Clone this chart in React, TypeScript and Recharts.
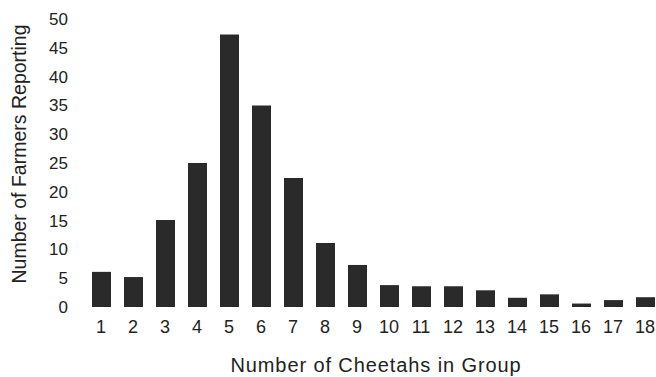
import * as React from "react";
import { BarChart, Bar, XAxis, YAxis, Label } from "recharts";

const groupSizes = ["1", "2", "3", "4", "5", "6", "7", "8", "9", "10", "11", "12", "13", "14", "15", "16", "17", "18"];
const farmerCounts = [6.1, 5.2, 15.1, 25, 47.3, 35, 22.4, 11.1, 7.3, 3.8, 3.6, 3.6, 2.9, 1.6, 2.2, 0.6, 1.2, 1.7];
const yTicks = [0, 5, 10, 15, 20, 25, 30, 35, 40, 45, 50];

const INK = "#222222";
const FONT = "'Liberation Sans', Arial, sans-serif";

const chartData = groupSizes.map((size, i) => ({ size, farmers: farmerCounts[i] }));

/**
 * Cheetah group size histogram
 */
export default function App() {
  return (
    <div
      style={{
        position: "absolute",
        left: 0,
        top: 0,
        width: 656,
        height: 377,
        overflow: "hidden",
        background: "#fff",
        fontFamily: FONT,
      }}
    >
      <BarChart
        width={672}
        height={377}
        data={chartData}
        margin={{ top: 19, right: 11, left: 0, bottom: 0 }}
        barCategoryGap={0}
      >
        <XAxis
          dataKey="size"
          height={70}
          axisLine={false}
          tickLine={false}
          tickSize={0}
          tickMargin={13}
          interval={0}
          tick={{ fill: INK, fontSize: 18, fontFamily: FONT }}
        >
          <Label
            value="Number of Cheetahs in Group"
            position="insideBottom"
            offset={5}
            dx={3}
            fill={INK}
            fontSize={20}
            fontFamily={FONT}
            letterSpacing={0.9}
          />
        </XAxis>
        <YAxis
          width={85}
          domain={[0, 50]}
          ticks={yTicks}
          axisLine={false}
          tickLine={false}
          tickSize={0}
          tickMargin={17}
          tick={{ fill: INK, fontSize: 17, fontFamily: FONT }}
        >
          <Label
            content={({ viewBox }: any) => {
              const cx = viewBox.x + 19;
              const cy = viewBox.y + viewBox.height / 2 - 9;
              return (
                <text
                  x={cx}
                  y={cy}
                  transform={`rotate(-90 ${cx} ${cy})`}
                  textAnchor="middle"
                  dominantBaseline="central"
                  fill={INK}
                  fontSize={19.5}
                  fontFamily={FONT}
                >
                  Number of Farmers Reporting
                </text>
              );
            }}
          />
        </YAxis>
        <Bar dataKey="farmers" fill="#2a2a2a" barSize={19} isAnimationActive={false} />
      </BarChart>
    </div>
  );
}
